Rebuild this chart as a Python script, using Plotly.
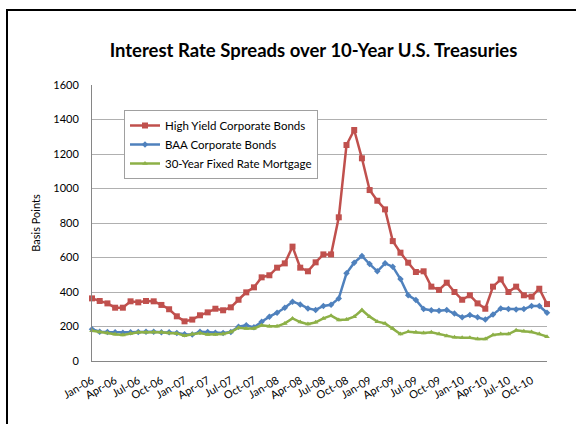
import plotly.graph_objects as go

months = [f"{m}-{y:02d}" for y in range(6, 11) for m in
          ["Jan", "Feb", "Mar", "Apr", "May", "Jun", "Jul", "Aug", "Sep", "Oct", "Nov", "Dec"]]

high_yield = [363, 348, 334, 309, 309, 346, 340, 348, 346, 325,
              300, 259, 230, 240, 265, 282, 303, 294, 311, 355,
              398, 427, 485, 497, 541, 566, 663, 541, 520, 572,
              618, 618, 833, 1252, 1339, 1175, 991, 929, 879, 695,
              628, 570, 516, 520, 431, 412, 454, 400, 355, 381,
              334, 303, 431, 473, 400, 431, 381, 373, 419, 330]

baa = [184, 170, 168, 166, 164, 166, 168, 170, 170, 166,
       166, 162, 155, 153, 170, 168, 164, 162, 168, 199,
       207, 195, 228, 257, 280, 309, 344, 328, 305, 296,
       319, 326, 363, 508, 570, 609, 562, 520, 566, 547,
       475, 381, 354, 301, 294, 292, 296, 276, 253, 267,
       253, 240, 269, 305, 301, 299, 301, 319, 319, 280]

mortgage = [176, 168, 162, 155, 151, 160, 166, 166, 168, 166,
            162, 160, 147, 156, 162, 153, 153, 156, 168, 193,
            189, 189, 207, 201, 201, 218, 247, 226, 214, 224,
            247, 263, 238, 241, 257, 296, 257, 228, 218, 189,
            156, 170, 166, 162, 166, 156, 145, 137, 135, 135,
            128, 128, 151, 156, 156, 178, 172, 168, 156, 141]

series_names = ["High Yield Corporate Bonds", "BAA Corporate Bonds", "30-Year Fixed Rate Mortgage"]
colors = ["#C0504D", "#4F81BD", "#8DB047"]
symbols = ["square", "diamond", "triangle-up"]
sizes = [6, 5, 5]

y_ticks = [0, 200, 400, 600, 800, 1000, 1200, 1400, 1600]
x_idx = list(range(len(months)))
tick_idx = x_idx[::3]
tick_text = months[::3]

FONT = "Lato"

fig = go.Figure()
for name, vals, c, s, sz in zip(series_names, [high_yield, baa, mortgage], colors, symbols, sizes):
    fig.add_trace(go.Scatter(
        x=x_idx, y=vals, name=name, mode="lines+markers", cliponaxis=False,
        line=dict(color=c, width=2.5),
        marker=dict(symbol=s, size=sz, color=c, line=dict(width=0)),
    ))

L, R, T, B = 92, 29, 85, 63
W, H = 576, 424
pw, ph = W - L - R, H - T - B

def px_x(p):
    return (p - L) / pw

def px_y(p):
    return (H - B - p) / ph

fig.update_layout(
    width=W, height=H,
    margin=dict(l=L, r=R, t=T, b=B, pad=0),
    paper_bgcolor="white", plot_bgcolor="white",
    font=dict(family=FONT, size=11, color="#000000"),
    title=dict(text="<b>Interest Rate Spreads over 10-Year U.S. Treasuries</b>",
               x=px_x(313.5), xref="paper", xanchor="center",
               y=1 - 51 / H, yanchor="middle",
               font=dict(family=FONT, size=18.5, color="#000000")),
    showlegend=True,
    legend=dict(x=px_x(124), y=px_y(110), xanchor="left", yanchor="top",
                bgcolor="white", bordercolor="#A0A0A0", borderwidth=1,
                font=dict(family=FONT, size=11.5), tracegroupgap=0, itemwidth=30),
    xaxis=dict(range=[0, len(months) - 1], tickvals=tick_idx, ticktext=tick_text,
               tickangle=-30, showgrid=False, zeroline=False,
               showline=True, linecolor="#868686", linewidth=1,
               ticks="", ticklabelstandoff=8, tickfont=dict(family=FONT, size=11)),
    yaxis=dict(range=[0, 1600], tickvals=y_ticks, showgrid=True,
               gridcolor="#B0B0B0", gridwidth=1, zeroline=False,
               showline=True, linecolor="#868686", linewidth=1,
               ticks="", ticklabelstandoff=10,
               title=dict(text="Basis Points", standoff=10, font=dict(family=FONT, size=11)),
               tickfont=dict(family=FONT, size=11)),
    shapes=[dict(type="rect", xref="paper", yref="paper",
                 x0=px_x(7), x1=px_x(590), y0=px_y(440), y1=px_y(10),
                 line=dict(color="black", width=2), fillcolor="rgba(0,0,0,0)", layer="above")],
)

fig.write_html("out.html", config={"displayModeBar": False},
               post_script="document.body.style.margin='0px';")
